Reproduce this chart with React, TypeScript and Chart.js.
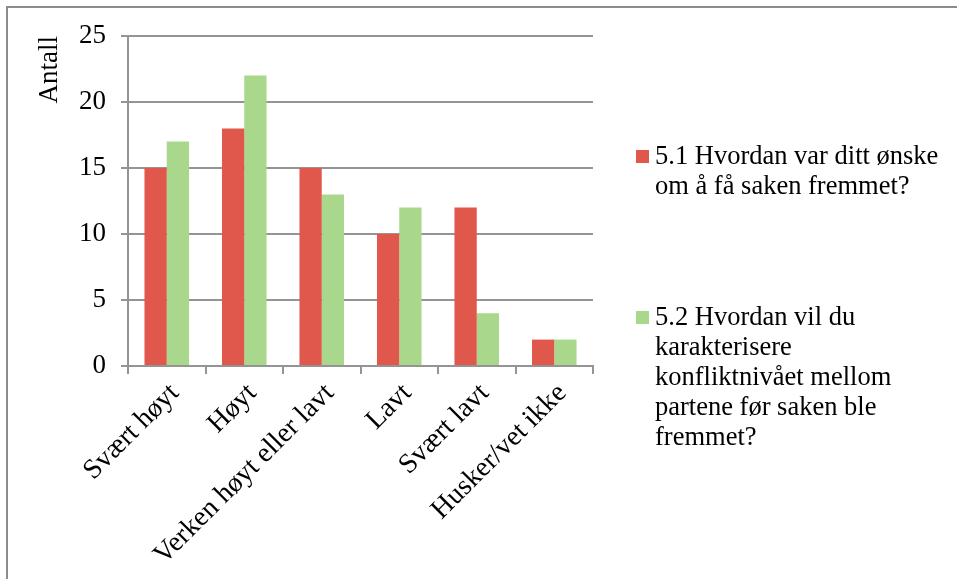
import React, { useEffect, useRef } from "react";
import { Chart, registerables } from "chart.js";

Chart.register(...registerables);

const categories = ["Svært høyt", "Høyt", "Verken høyt eller lavt", "Lavt", "Svært lavt", "Husker/vet ikke"];
const series1Label = "5.1 Hvordan var ditt ønske om å få saken fremmet?";
const series1Lines = ["5.1 Hvordan var ditt ønske", "om å få saken fremmet?"];
const series1Values = [15, 18, 15, 10, 12, 2];
const series2Label = "5.2 Hvordan vil du karakterisere konfliktnivået mellom partene før saken ble fremmet?";
const series2Lines = ["5.2 Hvordan vil du", "karakterisere", "konfliktnivået mellom", "partene før saken ble", "fremmet?"];
const series2Values = [17, 22, 13, 12, 4, 2];
const yTicks = [0, 5, 10, 15, 20, 25];
const yTitle = "Antall";

const RED = "#E0574B";
const GREEN = "#A9D78C";
const GRID = "#949494";
const FONT = "'Liberation Serif', 'Times New Roman', serif";

export default function App() {
  const ref = useRef<HTMLCanvasElement | null>(null);

  useEffect(() => {
    if (!ref.current) return;
    const chart = new Chart(ref.current, {
      type: "bar",
      data: {
        labels: categories,
        datasets: [
          { label: series1Label, data: series1Values, backgroundColor: RED, categoryPercentage: 0.575, barPercentage: 1 },
          { label: series2Label, data: series2Values, backgroundColor: GREEN, categoryPercentage: 0.575, barPercentage: 1 },
        ],
      },
      options: {
        animation: false,
        responsive: false,
        maintainAspectRatio: false,
        layout: { padding: { left: 0, top: 36, right: 364, bottom: 0 } },
        plugins: { legend: { display: false }, tooltip: { enabled: false } },
        scales: {
          x: {
            grid: { display: true, drawOnChartArea: false, drawTicks: true, tickLength: 8, color: GRID, lineWidth: 2, offset: true },
            border: { display: true, color: GRID, width: 2 },
            ticks: {
              color: "#000",
              font: { family: FONT, size: 28 },
              minRotation: 45,
              maxRotation: 45,
              autoSkip: false,
              padding: 3,
              labelOffset: 8,
            },
            afterFit: (s: any) => { s.height = 579 - 366; },
          },
          y: {
            min: 0,
            max: 25,
            afterBuildTicks: (s: any) => { s.ticks = yTicks.map((v) => ({ value: v })); },
            grid: { color: GRID, lineWidth: 2, tickLength: 7, drawTicks: true },
            border: { display: true, color: GRID, width: 2 },
            ticks: { color: "#000", font: { family: FONT, size: 27 }, padding: 15 },
            title: {
              display: true,
              text: yTitle,
              align: "end",
              color: "#000",
              font: { family: FONT, size: 27 },
              padding: { top: 34, bottom: 0 },
            },
            afterFit: (s: any) => { s.width = 128; },
          },
        },
      },
    });
    return () => chart.destroy();
  }, []);

  const legendItems = [
    { lines: series1Lines, color: RED, top: 140 },
    { lines: series2Lines, color: GREEN, top: 301 },
  ];

  return (
    <div style={{ position: "fixed", left: 0, top: 0, width: 957, height: 579, background: "#fff", overflow: "hidden" }}>
      <div style={{ position: "absolute", left: 6, top: 6, width: 1200, height: 1000, borderLeft: "2px solid #8c8c8c", borderTop: "2px solid #8c8c8c" }} />
      <canvas ref={ref} width={957} height={579} style={{ position: "absolute", left: 0, top: 0, width: 957, height: 579 }} />
      {legendItems.map((it, i) => (
        <div key={i} style={{ position: "absolute", left: 636, top: it.top, width: 320 }}>
          <div style={{ position: "absolute", left: 0, top: 10, width: 13, height: 13, background: it.color }} />
          <div style={{ marginLeft: 19, fontFamily: FONT, fontSize: 26.5, lineHeight: "30px", color: "#000", whiteSpace: "nowrap" }}>
            {it.lines.map((l, j) => (<div key={j}>{l}</div>))}
          </div>
        </div>
      ))}
    </div>
  );
}
